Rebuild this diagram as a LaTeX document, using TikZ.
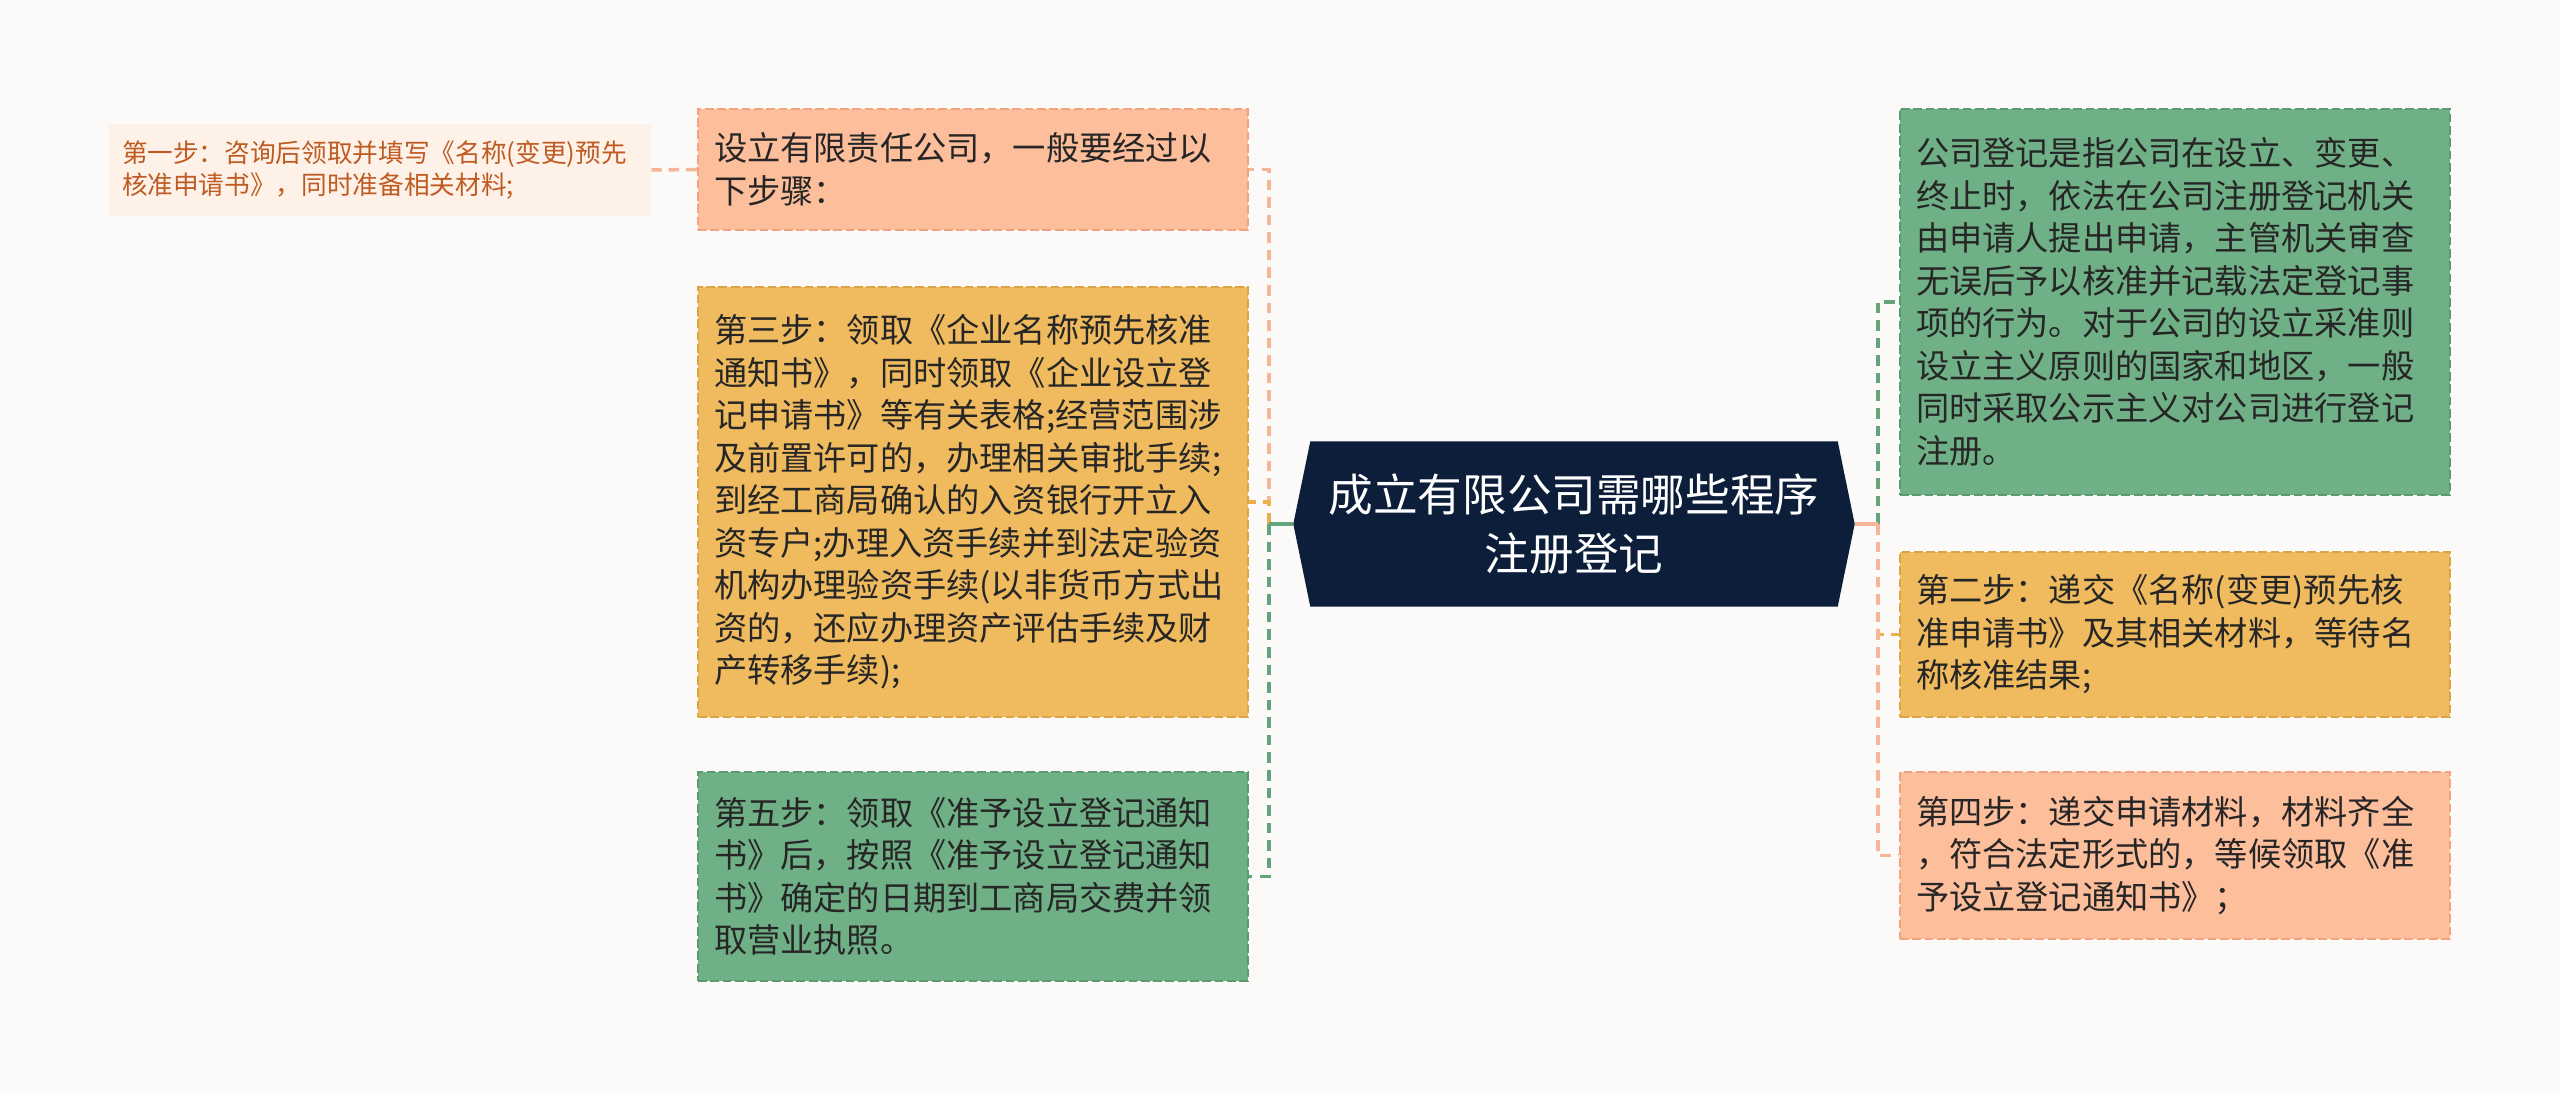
\documentclass[tikz,border=0pt]{standalone}
\usepackage{fontspec}
\setmainfont{Noto Sans CJK SC}
\usetikzlibrary{backgrounds}

\definecolor{paper}{HTML}{FCFAF9}
\definecolor{navy}{HTML}{0C1E3A}
\definecolor{ink}{HTML}{262626}
\definecolor{salmon}{HTML}{FDBE9B}
\definecolor{salmonline}{HTML}{F0A37E}
\definecolor{salmonlink}{HTML}{F5B596}
\definecolor{ochre}{HTML}{F0BB5F}
\definecolor{ochreline}{HTML}{DDA445}
\definecolor{ochrelink}{HTML}{EBB04E}
\definecolor{sage}{HTML}{70B086}
\definecolor{sageline}{HTML}{5A9A70}
\definecolor{sagelink}{HTML}{62A57A}
\definecolor{peach}{HTML}{FEF2E8}
\definecolor{rust}{HTML}{BF5B22}

\begin{document}
\begin{tikzpicture}[
	every node/.style={inner ysep=0pt},
	box/.style={rectangle, draw, line width=0.7pt, dash pattern=on 2.5pt off 1pt, text=ink, align=left, text width=5.18cm, inner xsep=0.16cm, font=\fontsize{9.45pt}{12.1pt}\selectfont},
	salmonbox/.style={box, fill=salmon, draw=salmonline},
	ochrebox/.style={box, fill=ochre, draw=ochreline},
	sagebox/.style={box, fill=sage, draw=sageline},
	notebox/.style={rectangle, fill=peach, text=rust, align=left, text width=5.16cm, inner xsep=0.13cm, font=\fontsize{7.3pt}{9.3pt}\selectfont},
	rootbox/.style={rectangle, text=white, align=center, minimum width=5.26cm, minimum height=1.64cm, font=\fontsize{12.7pt}{17pt}\selectfont},
	link/.style={line width=1pt, dash pattern=on 3pt off 2pt},
	stub/.style={line width=1pt}
	]
	\begin{scope}[on background layer]
		\fill[paper] (0,0) rectangle (25.6,10.93);
	\end{scope}
	\useasboundingbox (0,0) rectangle (25.6,10.93);
	
	% centre
	\node[rootbox] (root) at (15.74,5.69) {成立有限公司需哪些程序\\注册登记};
	\begin{scope}[on background layer]
		\fill[navy] ([xshift=-0.17cm]root.west) -- (root.north west) -- (root.north east) -- ([xshift=0.17cm]root.east) -- (root.south east) -- (root.south west) -- cycle;
	\end{scope}
	
	% left side
	\node[salmonbox, minimum height=1.21cm] (intro) at (9.73,9.235) {设立有限责任公司，一般要经过以\\下步骤：};
	\node[ochrebox, minimum height=4.30cm] (s3) at (9.73,5.91) {第三步：领取《企业名称预先核准\\通知书》，同时领取《企业设立登\\记申请书》等有关表格;经营范围涉\\及前置许可的，办理相关审批手续;\\到经工商局确认的入资银行开立入\\资专户;办理入资手续并到法定验资\\机构办理验资手续(以非货币方式出\\资的，还应办理资产评估手续及财\\产转移手续);};
	\node[sagebox, minimum height=2.09cm] (s5) at (9.73,2.165) {第五步：领取《准予设立登记通知\\书》后，按照《准予设立登记通知\\书》确定的日期到工商局交费并领\\取营业执照。};
	\node[notebox, minimum height=0.92cm] (s1) at (3.80,9.23) {第一步：咨询后领取并填写《名称(变更)预先\\核准申请书》，同时准备相关材料;};
	
	% right side
	\node[sagebox, minimum height=3.86cm] (def) at (21.75,7.91) {公司登记是指公司在设立、变更、\\终止时，依法在公司注册登记机关\\由申请人提出申请，主管机关审查\\无误后予以核准并记载法定登记事\\项的行为。对于公司的设立采准则\\设立主义原则的国家和地区，一般\\同时采取公示主义对公司进行登记\\注册。};
	\node[ochrebox, minimum height=1.65cm] (s2) at (21.75,4.585) {第二步：递交《名称(变更)预先核\\准申请书》及其相关材料，等待名\\称核准结果;};
	\node[salmonbox, minimum height=1.67cm] (s4) at (21.75,2.375) {第四步：递交申请材料，材料齐全\\，符合法定形式的，等候领取《准\\予设立登记通知书》；};
	
	\coordinate (lspine) at (12.69,5.69);
	\coordinate (rspine) at (18.78,5.69);
	
	\draw[link, salmonlink] (lspine) |- (intro.east);
	\draw[link, ochrelink] (lspine) |- (s3.east);
	\draw[link, sagelink] (lspine) |- (s5.east);
	\draw[stub, sagelink] ([xshift=-0.17cm]root.west) -- (lspine);
	\draw[link, salmonlink] (intro.west) -- (s1.east);
	
	\draw[link, sagelink] (rspine) |- (def.west);
	\draw[link, ochrelink] (rspine) |- (s2.west);
	\draw[link, salmonlink] (rspine) |- (s4.west);
	\draw[stub, salmonlink] ([xshift=0.17cm]root.east) -- (rspine);
	
\end{tikzpicture}
\end{document}
